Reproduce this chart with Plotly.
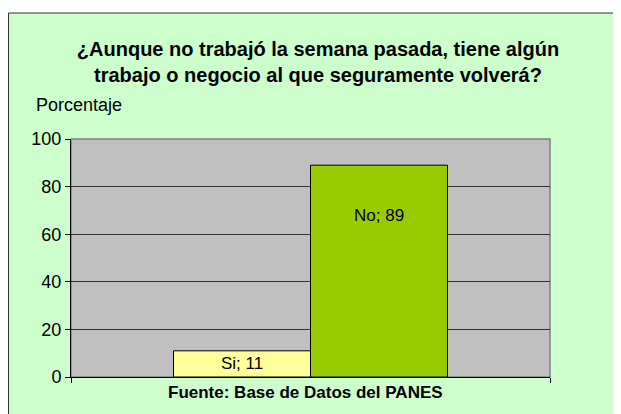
import plotly.graph_objects as go

# datos
categorias = ["Si", "No"]
porcentajes = [11, 89]
colores = ["#FFFF99", "#99CC00"]
y_ticks = [0, 20, 40, 60, 80, 100]

titulo = "<b>¿Aunque no trabajó la semana pasada, tiene algún<br>trabajo o negocio al que seguramente volverá?</b>"
fuente = "Fuente: Base de Datos del PANES"

W, H = 621, 414
OFF = 8  # margen del body de la pagina
# area del grafico en pixeles de la pagina: x 71..550, y 139..377
L = 71 - OFF
T = 139 - OFF
R = W - (550 - OFF)
B = H - (377 - OFF)
bar_w = 0.286

fig = go.Figure()
for i, (cat, val) in enumerate(zip(categorias, porcentajes)):
    fig.add_trace(go.Bar(
        x=[0], y=[val], name=cat,
        width=bar_w, offset=-bar_w if i == 0 else 0,
        marker=dict(color=colores[i], line=dict(color="black", width=1)),
        showlegend=False, hoverinfo="skip",
    ))

# etiquetas de datos
fig.add_annotation(x=-bar_w / 2, y=porcentajes[0] / 2, text=f"{categorias[0]}; {porcentajes[0]}",
                   showarrow=False, font=dict(size=17, color="black"))
fig.add_annotation(x=bar_w / 2, y=porcentajes[1], yshift=-50, text=f"{categorias[1]}; {porcentajes[1]}",
                   showarrow=False, font=dict(size=17, color="black"))

pw, ph = W - L - R, H - T - B
def px_x(p):
    # p en pixeles de pagina
    return (p - OFF - L) / pw
def px_y(p):
    return (H - B - (p - OFF)) / ph

fig.update_layout(
    width=W, height=H,
    margin=dict(l=L, r=R, t=T, b=B, pad=0),
    paper_bgcolor="white",
    plot_bgcolor="rgba(0,0,0,0)",
    font=dict(family="Liberation Sans, Arial", color="black"),
    title=dict(text=titulo, x=px_x(318) * pw / W + L / W, xanchor="center",
               y=1 - (56 - OFF) / H, yanchor="middle",
               font=dict(size=20, color="black")),
    shapes=[
        dict(type="rect", xref="paper", yref="paper", layer="below",
             x0=px_x(8.5), x1=px_x(660), y0=px_y(460), y1=px_y(13),
             fillcolor="#CCFFCC", line=dict(color="#333333", width=1)),
        dict(type="rect", xref="paper", yref="paper", layer="below",
             x0=0, x1=1, y0=0, y1=1,
             fillcolor="#C0C0C0", line=dict(color="#808080", width=1.5)),
    ],
    xaxis=dict(range=[-0.5, 0.5], tickvals=[-0.5, 0.5], ticktext=["", ""],
               ticks="outside", ticklen=5, tickcolor="black",
               showline=True, linecolor="black", linewidth=1,
               showgrid=False, zeroline=False, fixedrange=True),
    yaxis=dict(range=[0, 100], tickvals=y_ticks, ticks="outside", ticklen=5,
               tickcolor="black", showline=True, linecolor="black", linewidth=1,
               showgrid=True, gridcolor="#333333", gridwidth=1, zeroline=False,
               tickfont=dict(size=18), fixedrange=True),
)

fig.add_annotation(text="Porcentaje", xref="paper", yref="paper", x=px_x(34), y=px_y(105),
                   xanchor="left", yanchor="middle", showarrow=False, font=dict(size=18))
fig.add_annotation(text=f"<b>{fuente}</b>", xref="paper", yref="paper", x=px_x(305), y=px_y(392),
                   xanchor="center", yanchor="middle", showarrow=False, font=dict(size=17))

fig.write_html("out.html")
